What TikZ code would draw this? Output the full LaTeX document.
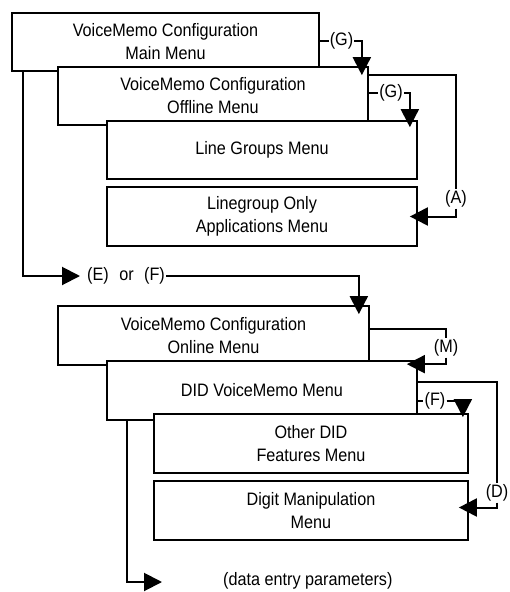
\documentclass[tikz,border=0pt]{standalone}
\usepackage{fontspec}
\setmainfont{Liberation Sans}[FakeStretch=0.9]
\usetikzlibrary{arrows.meta,calc}
\begin{document}
\begin{tikzpicture}[x=1pt,y=-1pt,
  font=\fontsize{18}{23}\selectfont,
  box/.style={draw, line width=1.7pt, fill=white, align=center, inner sep=0pt},
  lbl/.style={inner sep=1pt},
  conn/.style={line width=2pt},
  arr/.style={conn, -{Triangle[length=18pt,width=18pt]}}]
\useasboundingbox (0,0) rectangle (510,592);
% boxes
\node[box, minimum width=307pt, minimum height=58pt] (b1) at (165.5,42) {VoiceMemo Configuration\\Main Menu};
\node[box, minimum width=310pt, minimum height=58pt] (b2) at (213,96) {VoiceMemo Configuration\\Offline Menu};
\node[box, minimum width=310pt, minimum height=58pt] (b3) at (262,150) {Line Groups Menu};
\node[box, minimum width=310pt, minimum height=59pt] (b4) at (262,216.5) {Linegroup Only\\Applications Menu};
\node[box, minimum width=311pt, minimum height=59pt] (b5) at (213.5,335.5) {VoiceMemo Configuration\\Online Menu};
\node[box, minimum width=310pt, minimum height=59pt] (b6) at (262,390.5) {DID VoiceMemo Menu};
\node[box, minimum width=314pt, minimum height=59pt] (b7) at (311,443.5) {Other DID\\Features Menu};
\node[box, minimum width=314pt, minimum height=59pt] (b8) at (311,510.5) {Digit Manipulation\\Menu};
% labels
\node[lbl] (g1) at (341.5,41) {(G)};
\node[lbl] (g2) at (391,93) {(G)};
\node[lbl] (a) at (456,199) {(A)};
\node[lbl, anchor=west] (ef) at (86,276) {(E)\hspace{6pt} or\hspace{6pt} (F)};
\node[lbl] (m) at (446,348) {(M)};
\node[lbl] (f) at (435,401) {(F)};
\node[lbl, anchor=east] (d) at (509.5,493) {(D)};
\node[lbl, anchor=west] (de) at (222,581) {(data entry parameters)};
% connectors
\draw[conn] (b1.east |- g1) -- (g1.west);
\draw[arr] (g1.east) -| ($(b2.north east)+(-7,9)$);
\draw[conn] (b2.east |- g2) -- (g2.west);
\draw[arr] (g2.east) -| ($(b3.north east)+(-8,7)$);
\draw[conn] ($(b2.north east)+(0,9)$) -| (a.north);
\draw[arr] (a.south) |- ($(b4.east)+(-8,0)$);
\draw[arr] ($(b1.south west)+(12,0)$) |- ([xshift=-6pt]ef.west);
\draw[arr] (ef.east) -| ($(b5.north east)+(-11,9)$);
\draw[conn] ($(b5.north east)+(0,24)$) -| (m.north);
\draw[arr] (m.south) |- ($(b6.north east)+(-11,4)$);
\draw[conn] (b6.east |- f) -- (f.west);
\draw[arr] (f.east) -| ($(b7.north east)+(-6,4)$);
\draw[conn] ($(b6.north east)+(0,22)$) -| (d.north);
\draw[arr] (d.south) |- ($(b8.east)+(-10,-3)$);
\draw[arr] ($(b6.south west)+(21,0)$) |- ($(de.west)+(-60,1)$);
\end{tikzpicture}
\end{document}
